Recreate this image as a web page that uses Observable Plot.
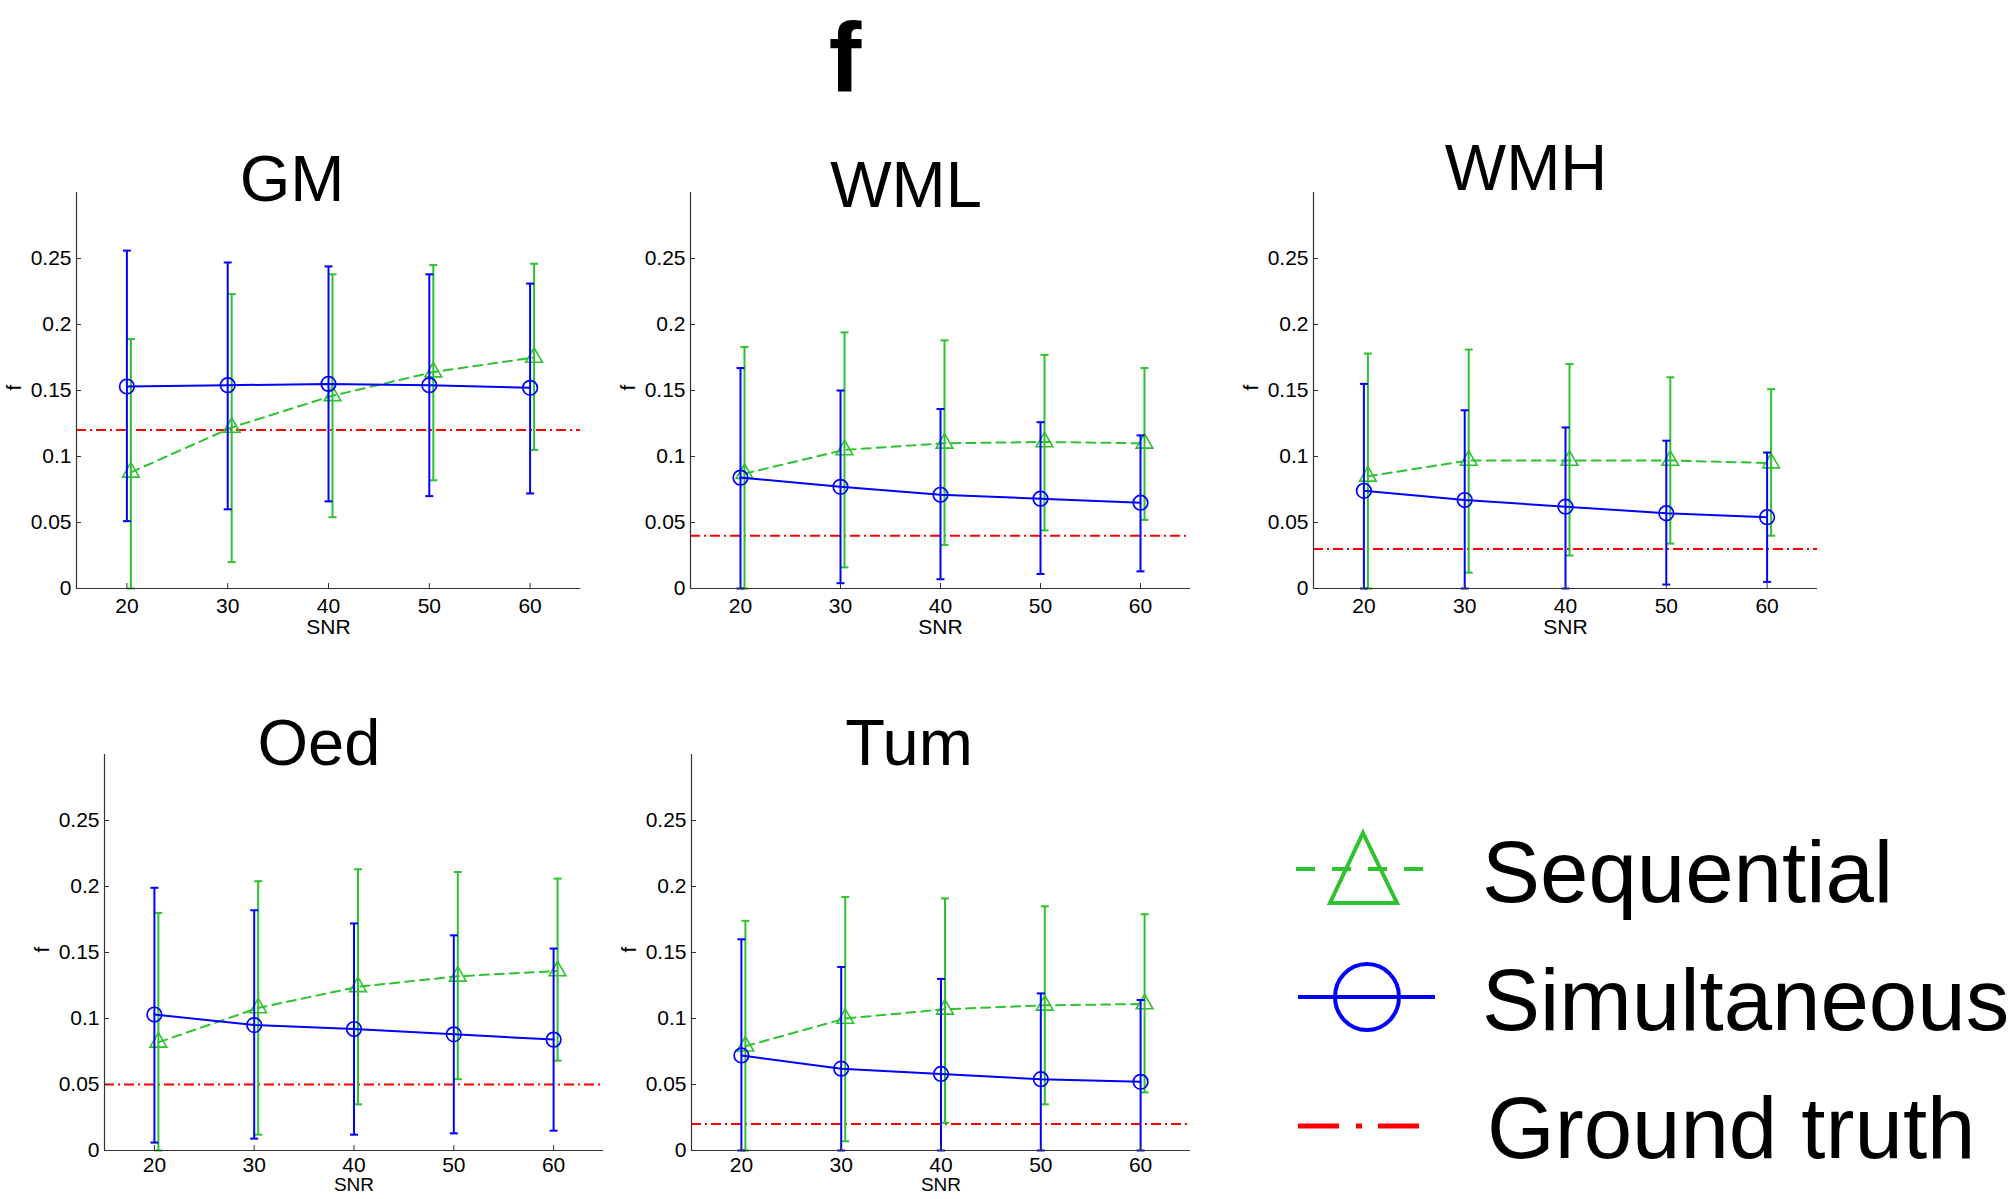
<!DOCTYPE html>
<html><head><meta charset="utf-8">
<script src="https://cdn.jsdelivr.net/npm/d3@7"></script>
<script src="https://cdn.jsdelivr.net/npm/@observablehq/plot@0.6"></script>
<style>
html,body{margin:0;padding:0;background:#fff;}
#root{position:relative;width:2008px;height:1199px;overflow:hidden;background:#fff;font-family:"Liberation Sans",Arial,Helvetica,sans-serif;}
.panel{position:absolute;}
#overlay{position:absolute;left:0;top:0;}
</style></head><body><div id="root"></div>
<script>
// ---- data ----
const snr = [20, 30, 40, 50, 60];
const panelNames = ["GM", "WML", "WMH", "Oed", "Tum"];
const groundTruth = [0.12, 0.04, 0.03, 0.05, 0.02];
const yTicks = [0, 0.05, 0.1, 0.15, 0.2, 0.25];
const xTicks = [20, 30, 40, 50, 60];
const legendLabels = ["Sequential", "Simultaneous", "Ground truth"];

// Simultaneous (blue, circles)
const simMean = [
  [0.153, 0.154, 0.155, 0.154, 0.152],
  [0.084, 0.077, 0.071, 0.068, 0.065],
  [0.074, 0.067, 0.062, 0.057, 0.054],
  [0.103, 0.095, 0.092, 0.088, 0.084],
  [0.072, 0.062, 0.058, 0.054, 0.052]
];
const simHigh = [
  [0.256, 0.247, 0.244, 0.238, 0.231],
  [0.167, 0.150, 0.136, 0.126, 0.116],
  [0.155, 0.135, 0.122, 0.112, 0.103],
  [0.199, 0.182, 0.172, 0.163, 0.153],
  [0.160, 0.139, 0.130, 0.119, 0.114]
];
const simLow = [
  [0.051, 0.060, 0.066, 0.070, 0.072],
  [0.000, 0.004, 0.007, 0.011, 0.013],
  [0.000, 0.000, 0.000, 0.003, 0.005],
  [0.006, 0.009, 0.012, 0.013, 0.015],
  [0.000, 0.000, 0.000, 0.000, 0.000]
];
// Sequential (green, triangles)
const seqMean = [
  [0.088, 0.122, 0.146, 0.164, 0.175],
  [0.087, 0.105, 0.110, 0.111, 0.110],
  [0.085, 0.097, 0.097, 0.097, 0.095],
  [0.082, 0.108, 0.124, 0.132, 0.136],
  [0.079, 0.100, 0.107, 0.110, 0.111]
];
const seqHigh = [
  [0.189, 0.223, 0.238, 0.245, 0.246],
  [0.183, 0.194, 0.188, 0.177, 0.167],
  [0.178, 0.181, 0.170, 0.160, 0.151],
  [0.180, 0.204, 0.213, 0.211, 0.206],
  [0.174, 0.192, 0.191, 0.185, 0.179]
];
const seqLow = [
  [0.000, 0.020, 0.054, 0.082, 0.105],
  [0.000, 0.016, 0.033, 0.044, 0.052],
  [0.000, 0.012, 0.025, 0.034, 0.040],
  [0.000, 0.012, 0.035, 0.054, 0.068],
  [0.000, 0.007, 0.021, 0.035, 0.044]
];

// ---- layout ----
const frames = [
  {left: 76,   top: 192, w: 504, pad: 15, snrDy: 45, snrSize: 21, title: {x: 292, y: 201}},
  {left: 690,  top: 192, w: 500, pad: 15, snrDy: 45, snrSize: 21, title: {x: 906, y: 207}},
  {left: 1313, top: 192, w: 504, pad: 15, snrDy: 45, snrSize: 21, title: {x: 1526, y: 190}},
  {left: 104,  top: 754, w: 499, pad: 12, snrDy: 40, snrSize: 19, title: {x: 319, y: 765}},
  {left: 691,  top: 754, w: 499, pad: 12, snrDy: 40, snrSize: 19, title: {x: 909, y: 765}}
];
const FH = 396;
const M = {l: 80, r: 20, t: 10, b: 60};
const GREEN = "#2ec22e", BLUE = "#0000ff", RED = "#ff0000", AX = "#333333";
const FONT = "'Liberation Sans', Arial, Helvetica, sans-serif";

const cap = {draw(ctx, size) { const w = Math.sqrt(size) / 2; ctx.moveTo(-w, 0); ctx.lineTo(w, 0); }};

const root = document.getElementById("root");

panelNames.forEach((name, i) => {
  const f = frames[i];
  const sim = snr.map((s, j) => ({snr: s, mean: simMean[i][j], lo: simLow[i][j], hi: simHigh[i][j]}));
  const seq = snr.map((s, j) => ({snr: s, mean: seqMean[i][j], lo: seqLow[i][j], hi: seqHigh[i][j]}));
  const chart = Plot.plot({
    width: f.w + M.l + M.r,
    height: FH + M.t + M.b,
    marginLeft: M.l, marginRight: M.r, marginTop: M.t, marginBottom: M.b,
    x: {domain: [15, 65]},
    y: {domain: [0, 0.3]},
    style: {fontFamily: FONT, fontSize: "21px", color: "#000", background: "transparent", overflow: "visible"},
    marks: [
      Plot.ruleY([groundTruth[i]], {stroke: RED, strokeWidth: 2, strokeDasharray: "10,4,2,4"}),
      // sequential
      Plot.ruleX(seq, {x: "snr", y1: "lo", y2: "hi", stroke: GREEN, strokeWidth: 2, dx: 4}),
      Plot.dot(seq, {x: "snr", y: "lo", symbol: cap, r: 4.5, stroke: GREEN, fill: "none", strokeWidth: 2, dx: 4}),
      Plot.dot(seq, {x: "snr", y: "hi", symbol: cap, r: 4.5, stroke: GREEN, fill: "none", strokeWidth: 2, dx: 4}),
      Plot.line(seq, {x: "snr", y: "mean", stroke: GREEN, strokeWidth: 2, strokeDasharray: "9,6", dx: 4}),
      Plot.dot(seq, {x: "snr", y: "mean", symbol: "triangle", r: 6.2, stroke: GREEN, fill: "none", strokeWidth: 1.6, dx: 4}),
      // simultaneous
      Plot.ruleX(sim, {x: "snr", y1: "lo", y2: "hi", stroke: BLUE, strokeWidth: 2}),
      Plot.dot(sim, {x: "snr", y: "lo", symbol: cap, r: 4.5, stroke: BLUE, fill: "none", strokeWidth: 2}),
      Plot.dot(sim, {x: "snr", y: "hi", symbol: cap, r: 4.5, stroke: BLUE, fill: "none", strokeWidth: 2}),
      Plot.line(sim, {x: "snr", y: "mean", stroke: BLUE, strokeWidth: 2}),
      Plot.dot(sim, {x: "snr", y: "mean", r: 7.3, stroke: BLUE, fill: "none", strokeWidth: 1.7}),
      // axes
      Plot.ruleX([15], {stroke: AX, strokeWidth: 1.2}),
      Plot.ruleY([0], {stroke: AX, strokeWidth: 1.2}),
      Plot.axisY({ticks: yTicks, tickSize: -5, tickPadding: 10, tickFormat: d => String(d), fontSize: 21, stroke: AX, label: null}),
      Plot.axisX({ticks: xTicks, tickSize: -5, tickPadding: f.pad, tickFormat: d => String(d), fontSize: 21, stroke: AX, label: null}),
      Plot.text(["SNR"], {text: d => d, frameAnchor: "bottom", dy: f.snrDy, fontSize: f.snrSize}),
      Plot.text(["f"], {text: d => d, frameAnchor: "left", dx: -62, rotate: -90, fontSize: 21})
    ]
  });
  chart.classList.add("panel");
  chart.style.left = (f.left - M.l) + "px";
  chart.style.top = (f.top - M.t) + "px";
  root.appendChild(chart);
});

// ---- titles & legend overlay ----
const svg = d3.select(root).append("svg").attr("id", "overlay")
  .attr("width", 2008).attr("height", 1199)
  .style("pointer-events", "none")
  .style("font-family", FONT);

svg.append("text").attr("x", 845).attr("y", 91).attr("text-anchor", "middle")
  .attr("font-size", 98).attr("font-weight", "bold").text("f");

panelNames.forEach((name, i) => {
  const t = frames[i].title;
  svg.append("text").attr("x", t.x).attr("y", t.y).attr("text-anchor", "middle")
    .attr("font-size", 65).text(name);
});

// legend
const lg = svg.append("g");
// Sequential
lg.append("line").attr("x1", 1296).attr("x2", 1426).attr("y1", 869).attr("y2", 869)
  .attr("stroke", GREEN).attr("stroke-width", 4).attr("stroke-dasharray", "19,17");
lg.append("path").attr("d", "M1363,833L1397,903L1330,903Z")
  .attr("fill", "none").attr("stroke", GREEN).attr("stroke-width", 4);
lg.append("text").attr("x", 1482).attr("y", 902).attr("font-size", 87).text(legendLabels[0]);
// Simultaneous
lg.append("line").attr("x1", 1298).attr("x2", 1435).attr("y1", 997).attr("y2", 997)
  .attr("stroke", BLUE).attr("stroke-width", 4);
lg.append("ellipse").attr("cx", 1367).attr("cy", 997).attr("rx", 32).attr("ry", 33)
  .attr("fill", "none").attr("stroke", BLUE).attr("stroke-width", 4);
lg.append("text").attr("x", 1482).attr("y", 1030).attr("font-size", 87).text(legendLabels[1]);
// Ground truth
lg.append("line").attr("x1", 1298).attr("x2", 1419).attr("y1", 1126).attr("y2", 1126)
  .attr("stroke", RED).attr("stroke-width", 5).attr("stroke-dasharray", "41,17,6,16,41");
lg.append("text").attr("x", 1487).attr("y", 1158).attr("font-size", 87).text(legendLabels[2]);
</script>
</body></html>
